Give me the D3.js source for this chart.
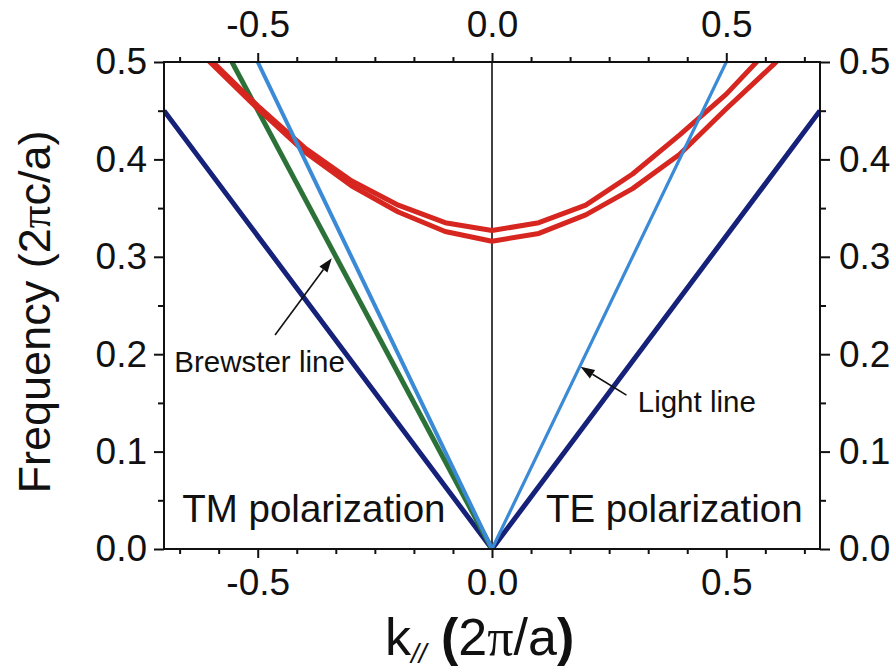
<!DOCTYPE html>
<html>
<head>
<meta charset="utf-8">
<script src="https://cdn.jsdelivr.net/npm/d3@7"></script>
<style>
  html, body { margin: 0; padding: 0; background: #fff; }
  svg text { font-family: "Liberation Sans", Arial, Helvetica, sans-serif; fill: #111; }
</style>
</head>
<body>
<svg id="chart" width="896" height="671"></svg>
<script>
// ---- data ----
// in-plane wave vector k// (2π/a) and frequency (2πc/a)
const xMajorTicks = [-0.5, 0.0, 0.5];
const xMajorLabels = ["-0.5", "0.0", "0.5"];
const xMinorTicks = [-8, -7, -5, -4, -3, -2, -1, 1, 2, 3, 4, 5, 7, 8].map(i => i / 12);
const yMajorTicks = [0.0, 0.1, 0.2, 0.3, 0.4, 0.5];
const yMajorLabels = ["0.0", "0.1", "0.2", "0.3", "0.4", "0.5"];
const yMinorTicks = [0.05, 0.15, 0.25, 0.35, 0.45];

// medium light cone (dark blue)
const coneK = [-0.7, 0.0, 0.7];
const coneF = [0.45, 0.0, 0.45];
// air light line (left and right halves)
const lightLeftK = [-0.5, 0.0];
const lightLeftF = [0.5, 0.0];
const lightRightK = [0.0, 0.5];
const lightRightF = [0.0, 0.5];
// Brewster line (TM side)
const brewsterK = [-0.555, 0.0];
const brewsterF = [0.5, 0.0];
// guided band edges (red)
const bandK = [-0.7, -0.6, -0.5, -0.4, -0.3, -0.2, -0.1, 0.0, 0.1, 0.2, 0.3, 0.4, 0.5, 0.6, 0.7];
const bandUpperF = [0.553, 0.502, 0.455, 0.412, 0.378, 0.353, 0.335, 0.327, 0.335, 0.353, 0.385, 0.425, 0.467, 0.518, 0.57];
const bandLowerF = [0.550, 0.499, 0.452, 0.408, 0.373, 0.346, 0.326, 0.316, 0.324, 0.343, 0.370, 0.405, 0.452, 0.497, 0.545];

// ---- layout ----
const svg = d3.select("#chart");
const L = 164, R = 820, T = 62, B = 549;
const x = d3.scaleLinear().domain([-0.7, 0.7]).range([L, R]);
const y = d3.scaleLinear().domain([0, 0.5]).range([B, T]);

const zip = (ks, fs) => ks.map((k, i) => [k, fs[i]]);
const line = d3.line().x(d => x(d[0])).y(d => y(d[1])).curve(d3.curveLinear);

svg.append("defs").append("clipPath").attr("id", "plotClip")
  .append("rect").attr("x", L).attr("y", T).attr("width", R - L).attr("height", B - T);

const plot = svg.append("g").attr("clip-path", "url(#plotClip)");

// k = 0 reference line
plot.append("line")
  .attr("x1", x(0)).attr("x2", x(0)).attr("y1", y(0)).attr("y2", y(0.5))
  .attr("stroke", "#111").attr("stroke-width", 1.6);

const COL_NAVY = "#16227a", COL_LIGHT = "#3a8ad6", COL_GREEN = "#2c7238", COL_RED = "#d6261f";

plot.append("path").datum(zip(coneK, coneF)).attr("d", line)
  .attr("fill", "none").attr("stroke", COL_NAVY).attr("stroke-width", 5).attr("stroke-linejoin", "miter");

plot.append("path").datum(zip(brewsterK, brewsterF)).attr("d", line)
  .attr("fill", "none").attr("stroke", COL_GREEN).attr("stroke-width", 5);

[bandUpperF, bandLowerF].forEach(fs => {
  plot.append("path").datum(zip(bandK, fs)).attr("d", line)
    .attr("fill", "none").attr("stroke", COL_RED).attr("stroke-width", 5)
    .attr("stroke-linejoin", "round");
});

plot.append("path").datum(zip(lightLeftK, lightLeftF)).attr("d", line)
  .attr("fill", "none").attr("stroke", COL_LIGHT).attr("stroke-width", 4);
plot.append("path").datum(zip(lightRightK, lightRightF)).attr("d", line)
  .attr("fill", "none").attr("stroke", COL_LIGHT).attr("stroke-width", 3.2);

// ---- axes ----
const TICK_FONT = 37;
function styleAxis(g) {
  g.select(".domain").remove();
  g.selectAll("line").attr("stroke", "#111").attr("stroke-width", 2);
  g.selectAll("text").attr("font-size", TICK_FONT)
    .attr("font-family", "'Liberation Sans', Arial, sans-serif").attr("fill", "#111");
}
const fmtX = d => xMajorLabels[xMajorTicks.indexOf(d)];
const fmtY = d => yMajorLabels[yMajorTicks.indexOf(d)];

// bottom
svg.append("g").attr("transform", `translate(0,${B})`)
  .call(d3.axisBottom(x).tickValues(xMajorTicks).tickFormat(fmtX).tickSize(9).tickSizeOuter(0).tickPadding(11))
  .call(styleAxis);
svg.append("g").attr("transform", `translate(0,${B})`)
  .call(d3.axisBottom(x).tickValues(xMinorTicks).tickFormat("").tickSize(5).tickSizeOuter(0))
  .call(styleAxis);
// top
svg.append("g").attr("transform", `translate(0,${T})`)
  .call(d3.axisTop(x).tickValues(xMajorTicks).tickFormat(fmtX).tickSize(9).tickSizeOuter(0).tickPadding(16))
  .call(styleAxis);
svg.append("g").attr("transform", `translate(0,${T})`)
  .call(d3.axisTop(x).tickValues(xMinorTicks).tickFormat("").tickSize(5).tickSizeOuter(0))
  .call(styleAxis);
// left
svg.append("g").attr("transform", `translate(${L},0)`)
  .call(d3.axisLeft(y).tickValues(yMajorTicks).tickFormat(fmtY).tickSize(10).tickSizeOuter(0).tickPadding(7))
  .call(styleAxis);
svg.append("g").attr("transform", `translate(${L},0)`)
  .call(d3.axisLeft(y).tickValues(yMinorTicks).tickFormat("").tickSize(6).tickSizeOuter(0))
  .call(styleAxis);
// right
svg.append("g").attr("transform", `translate(${R},0)`)
  .call(d3.axisRight(y).tickValues(yMajorTicks).tickFormat(fmtY).tickSize(10).tickSizeOuter(0).tickPadding(9))
  .call(styleAxis);
svg.append("g").attr("transform", `translate(${R},0)`)
  .call(d3.axisRight(y).tickValues(yMinorTicks).tickFormat("").tickSize(6).tickSizeOuter(0))
  .call(styleAxis);

// frame
svg.append("rect").attr("x", L).attr("y", T).attr("width", R - L).attr("height", B - T)
  .attr("fill", "none").attr("stroke", "#111").attr("stroke-width", 2);

// ---- axis titles ----
const yTitle = svg.append("text")
  .attr("transform", `translate(50,312) rotate(-90)`)
  .attr("text-anchor", "middle").attr("font-size", 45);
yTitle.append("tspan").text("Frequency (2");
yTitle.append("tspan").attr("font-family", "'Liberation Serif', 'DejaVu Serif', serif").text("π");
yTitle.append("tspan").text("c/a)");

const xTitle = svg.append("text").attr("x", 385).attr("y", 655).attr("font-size", 52);
xTitle.append("tspan").text("k");
xTitle.append("tspan").attr("font-size", 28).attr("font-style", "italic").attr("dy", 8).text("//");
xTitle.append("tspan").attr("dy", -8).text(" ");
xTitle.append("tspan").attr("font-weight", "bold").text("(");
xTitle.append("tspan").text("2");
xTitle.append("tspan").attr("font-family", "'Liberation Serif', 'DejaVu Serif', serif").text("π");
xTitle.append("tspan").text("/a");
xTitle.append("tspan").attr("font-weight", "bold").text(")");

// ---- annotations ----
svg.append("text").attr("x", x(-0.661)).attr("y", y(0.028)).attr("font-size", 38.5).text("TM polarization");
svg.append("text").attr("x", x(0.115)).attr("y", y(0.028)).attr("font-size", 38.5).text("TE polarization");

svg.append("text").attr("x", x(-0.678)).attr("y", y(0.182)).attr("font-size", 29.5).text("Brewster line");
svg.append("text").attr("x", x(0.311)).attr("y", y(0.141)).attr("font-size", 29.5).text("Light line");

function arrow(k0, f0, k1, f1) {
  const x0 = x(k0), y0 = y(f0), x1 = x(k1), y1 = y(f1);
  const a = Math.atan2(y1 - y0, x1 - x0);
  const len = 14, half = 5;
  const bx = x1 - len * Math.cos(a), by = y1 - len * Math.sin(a);
  svg.append("line").attr("x1", x0).attr("y1", y0).attr("x2", bx).attr("y2", by)
    .attr("stroke", "#111").attr("stroke-width", 1.6);
  const p = [
    [x1, y1],
    [bx + half * Math.sin(a), by - half * Math.cos(a)],
    [bx - half * Math.sin(a), by + half * Math.cos(a)]
  ];
  svg.append("path").attr("d", "M" + p.map(q => q.join(",")).join("L") + "Z").attr("fill", "#111");
}
arrow(-0.463, 0.2197, -0.342, 0.2985);
arrow(0.287, 0.158, 0.189, 0.187);
</script>
</body>
</html>
